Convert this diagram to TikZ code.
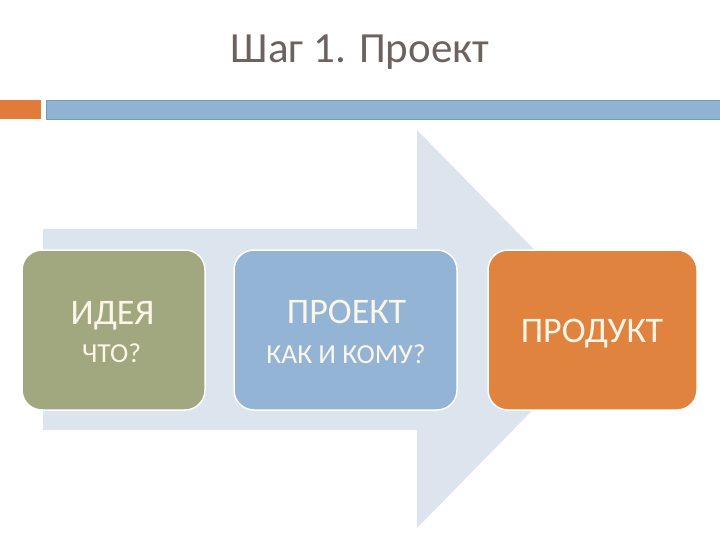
\documentclass[tikz,border=0pt]{standalone}
\usepackage{fontspec}
\setmainfont{Carlito}
\definecolor{titlec}{HTML}{6E625E}
\definecolor{arrowc}{HTML}{DCE4ED}
\definecolor{olivec}{HTML}{A1A77E}
\definecolor{bluec}{HTML}{93B4D5}
\definecolor{orangec}{HTML}{E0833F}
\definecolor{barblue}{HTML}{8FB3D3}
\definecolor{barorange}{HTML}{E07B39}
\definecolor{txtc}{HTML}{FBF6E8}
\tikzset{
  card/.style={draw=white, line width=1.5pt, rounded corners=20pt, inner sep=0pt},
  bigtxt/.style={text=txtc, font=\fontsize{36}{40}\selectfont, inner sep=0pt, anchor=base},
  smalltxt/.style={text=txtc, font=\fontsize{27.5}{30}\selectfont, inner sep=0pt, anchor=base}
}
\begin{document}
\begin{tikzpicture}[x=1pt,y=-1pt]
\useasboundingbox (0,0) rectangle (720,540);
\fill[white] (0,0) rectangle (720,540);
% title
\node[text=titlec, font=\fontsize{43}{46}\selectfont, inner sep=0pt, anchor=base] (title) at (360,63) {Шаг 1. Проект};
% bars
\fill[barorange] (0,100) rectangle (41,119);
\fill[barblue, draw=barblue!85!black, line width=0.6pt] (46,100) rectangle (720,119);
% big arrow
\fill[arrowc] (43,229) -- (417,229) -- (417,130) -- (612,329) -- (417,528) -- (417,430) -- (43,430) -- cycle;
% boxes
\node[card, fill=olivec, minimum width=183pt, minimum height=160pt] (idea) at (113.5,330) {};
\node[card, fill=bluec, minimum width=223pt, minimum height=160pt] (proj) at (345.5,330) {};
\node[card, fill=orangec, minimum width=209pt, minimum height=160pt] (prod) at (592.5,330) {};
% texts
\node[bigtxt] (ideat) at (112.5,324) {ИДЕЯ};
\node[smalltxt] (ideas) at (111.5,362) {ЧТО?};
\node[bigtxt] (projt) at (346.5,323) {ПРОЕКТ};
\node[smalltxt] (projs) at (346,363) {КАК И КОМУ?};
\node[bigtxt] (prodt) at (592,342) {ПРОДУКТ};
\end{tikzpicture}
\end{document}
